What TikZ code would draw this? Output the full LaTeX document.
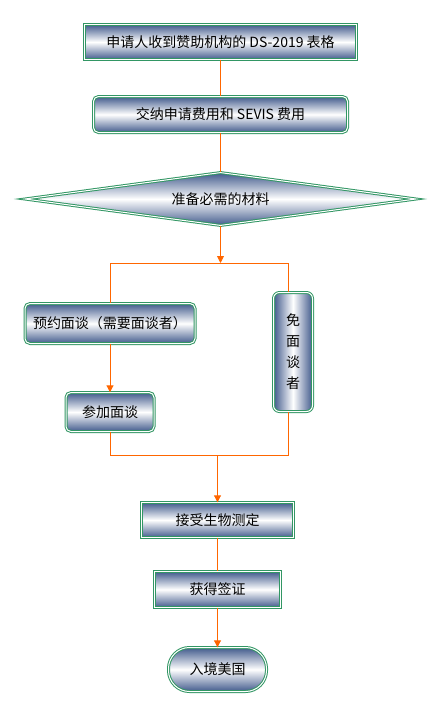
\documentclass[tikz,border=0pt]{standalone}
\usepackage{fontspec}
\setmainfont{Noto Sans CJK SC}
\usetikzlibrary{arrows.meta,shapes.geometric}
\definecolor{bgreen}{RGB}{50,150,100}
\definecolor{slate}{RGB}{65,90,140}
\definecolor{lineorange}{RGB}{255,102,0}
\tikzset{
 basebox/.style={inner sep=0pt, font=\fontsize{14}{16}\selectfont, text=black},
 frame/.style={postaction={draw=bgreen, double=white, double distance=1pt, line width=1pt}},
 box/.style={basebox, frame, top color=slate, bottom color=slate, middle color=white},
 rbox/.style={box, rounded corners=5pt},
 vbox/.style={basebox, frame, left color=slate, right color=slate, middle color=white, rounded corners=6pt, align=center, font=\fontsize{14}{21}\selectfont},
 link/.style={draw=lineorange, line width=0.9pt},
 arr/.style={link, -{Triangle[width=7pt,length=7pt]}},
}
\begin{document}
\begin{tikzpicture}[x=1pt,y=-1pt]
\useasboundingbox (0,0) rectangle (438,713);
\node[box, minimum width=272pt, minimum height=35pt] (b1) at (220.5,42) {申请人收到赞助机构的 DS-2019 表格};
\node[rbox, minimum width=254pt, minimum height=36pt] (b2) at (220.5,114.5) {交纳申请费用和 SEVIS 费用};
\node[box, diamond, aspect=7, minimum width=391pt, minimum height=53pt] (d) at (220.5,199) {准备必需的材料};
\node[rbox, minimum width=170pt, minimum height=40pt] (b3) at (110,323.5) {预约面谈（需要面谈者）};
\node[vbox, minimum width=39pt, minimum height=119pt] (b4) at (293,352) {免\\面\\谈\\者};
\node[rbox, minimum width=88pt, minimum height=39pt] (b5) at (110,412) {参加面谈};
\node[box, minimum width=152pt, minimum height=35pt] (b6) at (217.5,520) {接受生物测定};
\node[box, minimum width=126pt, minimum height=36pt] (b7) at (217.5,589.5) {获得签证};
\node[box, rounded corners=21pt, minimum width=98pt, minimum height=44pt] (b8) at (217.5,669.5) {入境美国};
\coordinate (s) at (220.5,263);
\coordinate (sl) at (110,263);
\coordinate (sr) at (288,263);
\coordinate (ml) at (110,455);
\coordinate (mr) at (288,455);
\coordinate (m) at (217.5,455);
\draw[link] (b1) -- (b2);
\draw[link] (b2) -- (d);
\draw[arr] (d) -- (s);
\draw[link] (sl) -- (sr);
\draw[link] (sl) -- (b3);
\draw[link] (sr) -- (sr |- b4.north);
\draw[arr] (b3) -- (b5);
\draw[link] (b5) -- (ml) -- (mr) -- (mr |- b4.south);
\draw[arr] (m) -- (b6);
\draw[link] (b6) -- (b7);
\draw[arr] (b7) -- (b8);
\end{tikzpicture}
\end{document}
